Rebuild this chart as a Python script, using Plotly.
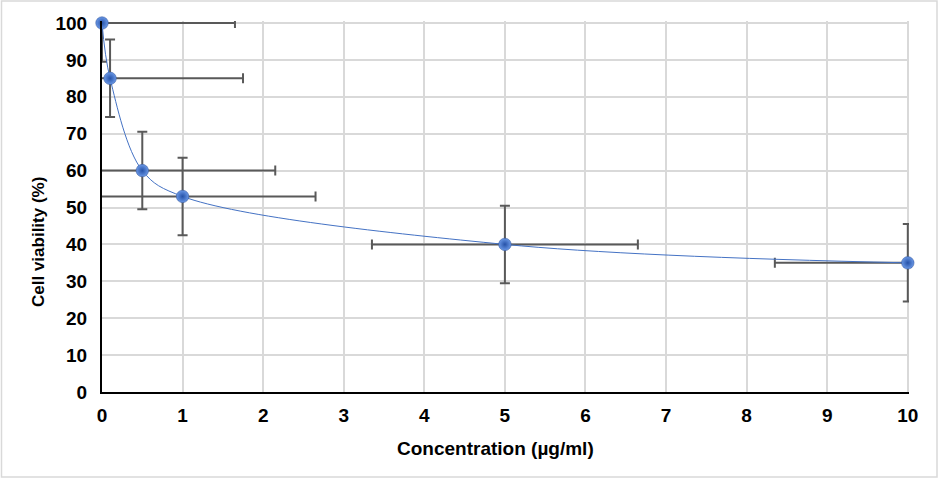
import plotly.graph_objects as go

concentration = [0, 0.1, 0.5, 1, 5, 10]
viability = [100, 85, 60, 53, 40, 35]
y_err = [10.5, 10.5, 10.5, 10.5, 10.5, 10.5]
x_err = [1.65, 1.65, 1.65, 1.65, 1.65, 1.65]
x_ticks = list(range(0, 11))
y_ticks = list(range(0, 101, 10))
x_title = "Concentration (µg/ml)"
y_title = "Cell viability (%)"

W, H = 942, 479
ML, MR, MT, MB = 102, 33, 21, 87
PW, PH = W - ML - MR, H - MT - MB
X_MAX = 10 + 1.2 * 10 / 806    # a pixel of room past the last gridline
Y_MAX = 100 + 2 * 100 / 369


def px(x):
    return (x - ML) / PW


def py(y):
    return (H - MB - y) / PH


FONT = "Liberation Sans, Arial"
tickfont = dict(family=FONT, size=19, color="black", weight="bold")
ERR = "#595959"

fig = go.Figure()
fig.add_trace(go.Scatter(
    x=concentration, y=viability, mode="markers",
    marker=dict(size=1, opacity=0),
    error_y=dict(type="data", array=y_err, color=ERR, thickness=2, width=5),
    error_x=dict(type="data", array=x_err, color=ERR, thickness=2, width=5),
    cliponaxis=True, hoverinfo="skip", showlegend=False))
fig.add_trace(go.Scatter(
    x=concentration, y=viability, mode="lines",
    line=dict(color="#4472C4", width=1, shape="spline", smoothing=1),
    cliponaxis=True, showlegend=False))
fig.add_trace(go.Scatter(
    x=concentration, y=viability, mode="markers",
    marker=dict(size=12.5, color="#6a98e6",
                gradient=dict(type="radial", color="#2652a8"),
                line=dict(width=0.5, color="#2a4f96")),
    cliponaxis=False, showlegend=False))

fig.update_layout(
    width=W, height=H,
    margin=dict(l=ML, r=MR, t=MT, b=MB, autoexpand=False),
    paper_bgcolor="white", plot_bgcolor="white",
    font=dict(family=FONT, size=15, color="black"),
    xaxis=dict(range=[0, X_MAX], tickvals=x_ticks, showgrid=True, gridcolor="#d9d9d9",
               gridwidth=1.5, showline=True, linecolor="black", linewidth=2,
               zeroline=False, ticks="outside", ticklen=5, tickcolor="rgba(0,0,0,0)",
               tickfont=tickfont, automargin=False),
    yaxis=dict(range=[0, Y_MAX], tickvals=y_ticks, showgrid=True, gridcolor="#d9d9d9",
               gridwidth=1.5, showline=True, linecolor="black", linewidth=2,
               zeroline=False, ticks="outside", ticklen=9, tickcolor="rgba(0,0,0,0)",
               tickfont=tickfont, automargin=False),
    shapes=[dict(type="rect", xref="paper", yref="paper",
                 x0=px(1.5), x1=px(937), y0=py(477), y1=py(1),
                 line=dict(color="#d9d9d9", width=1.5), layer="below")],
    annotations=[
        dict(text=x_title, xref="paper", yref="paper", x=px(495.5), y=py(448),
             showarrow=False, xanchor="center", yanchor="middle",
             font=dict(family=FONT, size=19, color="black", weight="bold")),
        dict(text=y_title, xref="paper", yref="paper", x=px(38), y=py(242),
             showarrow=False, xanchor="center", yanchor="middle", textangle=-90,
             font=dict(family=FONT, size=17, color="black", weight="bold")),
    ],
)

fig.write_html("out.html", config={"displayModeBar": False},
               post_script="document.body.style.margin='0';")
